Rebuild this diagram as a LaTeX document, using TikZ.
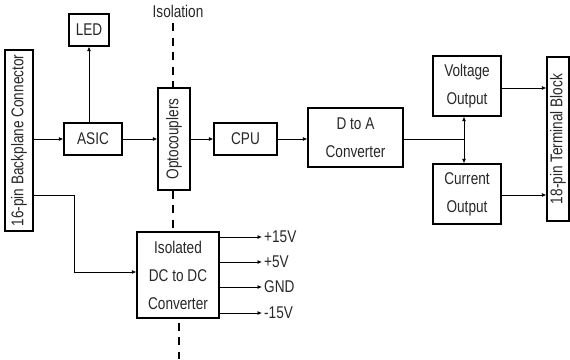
\documentclass[tikz,border=0pt]{standalone}
\usepackage{fontspec}
\setmainfont{Liberation Sans}[FakeStretch=0.8]
\usetikzlibrary{arrows.meta,calc}
\definecolor{ink}{RGB}{40,40,40}
\tikzset{
  box/.style={draw=black, line width=1.2pt, fill=white, inner sep=0pt, align=center,
    text=ink, font=\fontsize{17}{28}\selectfont},
  arr/.style={draw=black, line width=0.8pt, -{Latex[length=4.5pt,width=4pt]}},
  wire/.style={draw=black, line width=0.8pt},
  iso/.style={draw=black, line width=1.8pt, dash pattern=on 8pt off 6.5pt},
  lbl/.style={text=ink, font=\fontsize{17}{28}\selectfont, inner sep=0pt}
}
\begin{document}
\begin{tikzpicture}[x=1pt,y=-1pt]
\useasboundingbox (0,0) rectangle (570,359);
% boxes
\node[box, minimum width=28pt, minimum height=181pt,
  label={[lbl,rotate=90]center:16-pin Backplane Connector}] (conn) at (19,140.5) {};
\node[box, minimum width=40pt, minimum height=32pt] (led) at (89,30) {LED};
\node[box, minimum width=58pt, minimum height=32pt] (asic) at (93,139) {ASIC};
\node[box, minimum width=32pt, minimum height=102pt,
  label={[lbl,rotate=90]center:Optocouplers}] (opto) at (174,139) {};
\node[box, minimum width=63pt, minimum height=32pt] (cpu) at (245.5,139) {CPU};
\node[box, minimum width=95pt, minimum height=59pt] (dac) at (355.5,137.5) {D to A\\Converter};
\node[box, minimum width=68pt, minimum height=60pt] (vout) at (467,86) {Voltage\\Output};
\node[box, minimum width=68pt, minimum height=60pt] (iout) at (467,194) {Current\\Output};
\node[box, minimum width=22pt, minimum height=164pt,
  label={[lbl,rotate=90]center:18-pin Terminal Block}] (term) at (558,139) {};
\node[box, minimum width=82pt, minimum height=86pt] (dcdc) at (178,275) {Isolated\\DC to DC\\Converter};
% isolation barrier
\node[lbl] (isolbl) at (178,11) {Isolation};
\coordinate (isotop) at (173,23);
\coordinate (isomid) at (173,232);
\coordinate (isobot) at (179,359);
\draw[iso] (isotop) -- (isotop |- opto.north);
\draw[iso] (isotop |- opto.south) -- (isomid);
\draw[iso] (isobot |- dcdc.south) ++(0,4) -- (isobot);
% connectors
\draw[arr] (conn.east |- asic.west) -- (asic.west);
\draw[arr] (asic.north -| led.south) -- (led.south);
\draw[arr] (asic.east) -- (asic.east -| opto.west);
\draw[arr] (opto.east |- cpu.west) -- (cpu.west);
\draw[arr] (cpu.east) -- (cpu.east -| dac.west);
\coordinate (jn) at (464,139);
\draw[wire] (dac.east |- jn) -- (jn);
\draw[arr] (jn) -- (jn |- vout.south);
\draw[arr] (jn) -- (jn |- iout.north);
\coordinate (vy) at (0,88);
\coordinate (iy) at (0,195);
\draw[arr] (vout.east |- vy) -- (term.west |- vy);
\draw[arr] (iout.east |- iy) -- (term.west |- iy);
\coordinate (bend) at (74,195);
\coordinate (bend2) at (74,272);
\draw[arr] (conn.east |- bend) -- (bend) -- (bend2) -- (dcdc.west |- bend2);
% DC outputs
\coordinate (o1) at (262,237);
\coordinate (o2) at (262,262);
\coordinate (o3) at (262,287);
\coordinate (o4) at (262,313);
\draw[arr] (dcdc.east |- o1) -- (o1);
\draw[arr] (dcdc.east |- o2) -- (o2);
\draw[arr] (dcdc.east |- o3) -- (o3);
\draw[arr] (dcdc.east |- o4) -- (o4);
\node[lbl, anchor=west] (t1) at ([xshift=2pt]o1) {+15V};
\node[lbl, anchor=west] (t2) at ([xshift=2pt]o2) {+5V};
\node[lbl, anchor=west] (t3) at ([xshift=2pt]o3) {GND};
\node[lbl, anchor=west] (t4) at ([xshift=2pt]o4) {-15V};
\end{tikzpicture}
\end{document}
